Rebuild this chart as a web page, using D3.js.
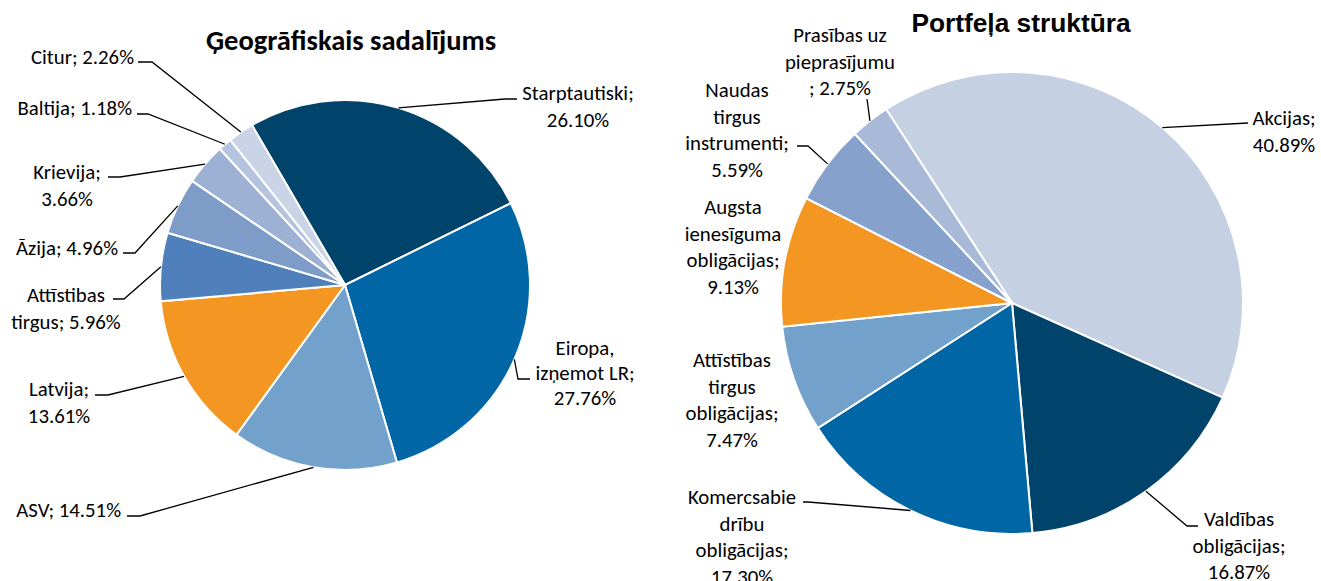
<!DOCTYPE html>
<html>
<head>
<meta charset="utf-8">
<script src="https://cdn.jsdelivr.net/npm/d3@7"></script>
<style>
  body { margin: 0; background: #fff; }
  .lbl { font-family: Carlito, Lato, "Open Sans", sans-serif; font-size: 20.8px; fill: #000; }
  .lead { fill: none; stroke: #000; stroke-width: 1.3px; }
</style>
</head>
<body>
<div id="chart"></div>
<script>
// left pie - geographic split
var geoNames = ["Starptautiski", "Eiropa,\nizņemot LR", "ASV", "Latvija", "Attīstibas\ntirgus",
  "Āzija", "Krievija", "Baltija", "Citur"];
var geoValues = [26.10, 27.76, 14.51, 13.61, 5.96, 4.96, 3.66, 1.18, 2.26];
var geoSep = [";\n", ";\n", "; ", ";\n", "; ", "; ", ";\n", "; ", "; "];
var geoColors = ["#00446b", "#0066a6", "#72a1cc", "#f49622", "#4f80bc", "#7f9cc8", "#9db1d4", "#b5c4de", "#cbd4e6"];

// right pie - portfolio structure
var portNames = ["Akcijas", "Valdības\nobligācijas", "Komercsabie\ndrību\nobligācijas",
  "Attīstības\ntirgus\nobligācijas", "Augsta\nienesīguma\nobligācijas", "Naudas\ntirgus\ninstrumenti",
  "Prasības uz\npieprasījumu"];
var portValues = [40.89, 16.87, 17.30, 7.47, 9.13, 5.59, 2.75];
var portSep = [";\n", ";\n", ";\n", ";\n", ";\n", ";\n", "\n; "];
var portColors = ["#c5d0e3", "#00446b", "#0066a6", "#72a1cc", "#f49622", "#86a1cb", "#a9b9d8"];

// label placement (x, y of first line centre, anchor, leader elbow points)
var geoLayout = [
  {x: 578, y: 93, a: "middle", lead: [[517, 99], [505, 99]]},
  {x: 585, y: 348, a: "middle", lh: 25, lead: [[530, 379], [518, 379]]},
  {x: 121, y: 510, a: "end", lead: [[127, 516], [140, 516]]},
  {x: 59, y: 389, a: "middle", lead: [[95, 395], [108, 395]]},
  {x: 66, y: 295, a: "middle", lead: [[113, 299], [124, 299]]},
  {x: 118, y: 248, a: "end", lead: [[123, 253], [135, 253]]},
  {x: 67, y: 172, a: "middle", lead: [[108, 177], [120, 177]]},
  {x: 132, y: 108, a: "end", lead: [[137, 114], [148, 114]]},
  {x: 134, y: 57, a: "end", lead: [[138, 62], [152, 62]]}
];
var portLayout = [
  {x: 1284, y: 118, a: "middle", lead: [[1248, 123]]},
  {x: 1239, y: 519, a: "middle", lead: [[1198, 526], [1187, 526]]},
  {x: 742, y: 497, a: "middle", lead: [[803, 502], [808, 502]]},
  {x: 732, y: 360, a: "middle", lead: null},
  {x: 733, y: 207, a: "middle", lead: null},
  {x: 737, y: 90, a: "middle", lead: [[797, 146], [808, 146]]},
  {x: 840, y: 35, a: "middle", lead: [[867, 99]]}
];

var svg = d3.select("#chart").append("svg")
  .attr("width", 1321)
  .attr("height", 581);

function drawPie(opts) {
  var data = opts.values.map(function(v, i) {
    return {name: opts.names[i], value: v, sep: opts.sep[i], color: opts.colors[i], pos: opts.layout[i]};
  });
  var start = opts.start * Math.PI / 180;
  var pie = d3.pie().sort(null).value(d => d.value)
    .startAngle(start).endAngle(start + 2 * Math.PI);
  var arc = d3.arc().innerRadius(0).outerRadius(opts.r);
  var arcs = pie(data);

  var g = svg.append("g").attr("transform", `translate(${opts.cx}, ${opts.cy})`);
  g.selectAll("path.slice")
    .data(arcs)
    .enter()
    .append("path")
    .attr("class", "slice")
    .attr("d", arc)
    .attr("fill", d => d.data.color)
    .attr("stroke", "#fff")
    .attr("stroke-width", 2);

  // leader lines: from label elbow to middle of the slice's outer edge
  arcs.forEach(function(d) {
    var p = d.data.pos;
    if (!p.lead) return;
    var mid = (d.startAngle + d.endAngle) / 2;
    var pts = p.lead.concat([[opts.cx + opts.r * Math.sin(mid), opts.cy - opts.r * Math.cos(mid)]]);
    svg.append("path")
      .attr("class", "lead")
      .attr("d", d3.line()(pts));
  });

  // data labels
  arcs.forEach(function(d) {
    var p = d.data.pos;
    var txt = d.data.name + d.data.sep + d.data.value.toFixed(2) + "%";
    var lines = txt.split("\n");
    var lh = p.lh || 26.5;
    var t = svg.append("text")
      .attr("class", "lbl")
      .attr("text-anchor", p.a);
    lines.forEach(function(line, k) {
      t.append("tspan")
        .attr("x", p.x)
        .attr("y", p.y + k * lh)
        .attr("dy", "0.35em")
        .text(line);
    });
  });

  svg.append("text")
    .attr("x", opts.tx)
    .attr("y", opts.ty)
    .attr("text-anchor", "middle")
    .style("font-family", opts.titleFont)
    .style("font-size", opts.titleSize + "px")
    .style("font-weight", "bold")
    .text(opts.title);
}

drawPie({
  names: geoNames, values: geoValues, sep: geoSep, colors: geoColors, layout: geoLayout,
  cx: 345, cy: 285, r: 185, start: -30.2,
  title: "Ģeogrāfiskais sadalījums", tx: 351, ty: 50,
  titleFont: "Carlito, Lato, sans-serif", titleSize: 28.5
});

drawPie({
  names: portNames, values: portValues, sep: portSep, colors: portColors, layout: portLayout,
  cx: 1012, cy: 303, r: 231, start: -33,
  title: "Portfeļa struktūra", tx: 1021, ty: 32,
  titleFont: "'Liberation Sans', Arial, sans-serif", titleSize: 26.3
});
</script>
</body>
</html>
